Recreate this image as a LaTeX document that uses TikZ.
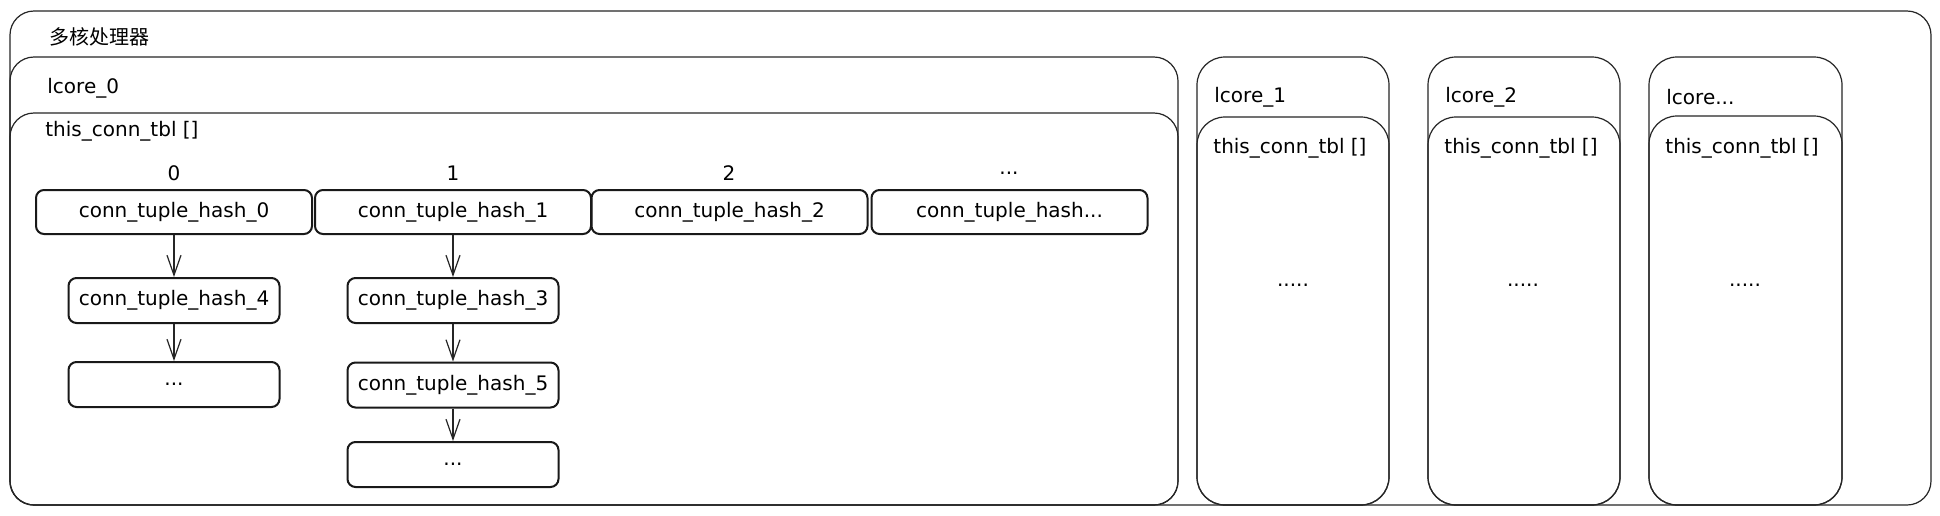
\documentclass[tikz,border=0pt]{standalone}
\usepackage{fontspec}
\setmainfont{DejaVu Sans}
\newfontfamily\cjkfont{Noto Sans CJK SC}
\usetikzlibrary{arrows.meta}
\begin{document}
\begin{tikzpicture}[x=0.5pt,y=-0.5pt,
  container/.style={draw=black!85, line width=0.6pt, rounded corners=12pt},
  narrowcont/.style={draw=black!85, line width=0.6pt, rounded corners=14pt},
  txt/.style={font=\fontsize{10}{12}\selectfont},
  hbox/.style={txt, draw=black!90, line width=1pt, rounded corners=4pt, minimum width=138pt, minimum height=22pt, inner sep=0pt},
  cbox/.style={hbox, minimum width=105.5pt, minimum height=22.5pt},
  lbl/.style={txt, anchor=west, inner sep=0pt},
  idx/.style={txt, inner sep=0pt},
  link/.style={draw=black!85, line width=0.6pt, -{Straight Barb[length=10pt,width=7pt]}}
]
\fill[white] (0,0) rectangle (1940,515);
\useasboundingbox (0,0) rectangle (1940,515);

% outer processor container
\draw[container] (10,11) rectangle (1931,505);
\node[lbl, font=\cjkfont\fontsize{10}{12}\selectfont] (title) at (49,37) {多核处理器};

% lcore_0
\draw[container] (10,57) rectangle (1178,505);
\node[lbl] (l0) at (47,88) {lcore\_0};
\draw[container] (10,113) rectangle (1178,505);
\node[lbl] (t0) at (45,131) {this\_conn\_tbl []};

% index labels
\node[idx] (i0) at (174,173) {0};
\node[idx] (i1) at (453,173) {1};
\node[idx] (i2) at (729,173) {2};
\node[idx] (i3) at (1009,173) {...};

% top row
\node[hbox] (h0) at (174,212) {conn\_tuple\_hash\_0};
\node[hbox] (h1) at (453,212) {conn\_tuple\_hash\_1};
\node[hbox] (h2) at (729.5,212) {conn\_tuple\_hash\_2};
\node[hbox] (hx) at (1009.5,212) {conn\_tuple\_hash...};

% column 0 chain
\node[cbox] (h4) at (174,300.5) {conn\_tuple\_hash\_4};
\node[cbox] (d0) at (174,384.5) {...};
% column 1 chain
\node[cbox] (h3) at (453,300.5) {conn\_tuple\_hash\_3};
\node[cbox] (h5) at (453,385) {conn\_tuple\_hash\_5};
\node[cbox] (d1) at (453,464.5) {...};

\draw[link] (h0) -- (h4);
\draw[link] (h4) -- (d0);
\draw[link] (h1) -- (h3);
\draw[link] (h3) -- (h5);
\draw[link] (h5) -- (d1);

% lcore_1
\draw[narrowcont] (1197,57) rectangle (1389,505);
\draw[narrowcont] (1197,117) rectangle (1389,505);
\node[lbl] (l1) at (1214,97) {lcore\_1};
\node[lbl] (t1) at (1213,148) {this\_conn\_tbl []};
\node[idx] (e1) at (1293,285) {.....};

% lcore_2
\draw[narrowcont] (1428,57) rectangle (1620,505);
\draw[narrowcont] (1428,117) rectangle (1620,505);
\node[lbl] (l2) at (1445,97) {lcore\_2};
\node[lbl] (t2) at (1444,148) {this\_conn\_tbl []};
\node[idx] (e2) at (1523,285) {.....};

% lcore...
\draw[narrowcont] (1649,57) rectangle (1842,505);
\draw[narrowcont] (1649,116) rectangle (1842,505);
\node[lbl] (l3) at (1666,97) {lcore...};
\node[lbl] (t3) at (1665,148) {this\_conn\_tbl []};
\node[idx] (e3) at (1745,285) {.....};
\end{tikzpicture}
\end{document}
